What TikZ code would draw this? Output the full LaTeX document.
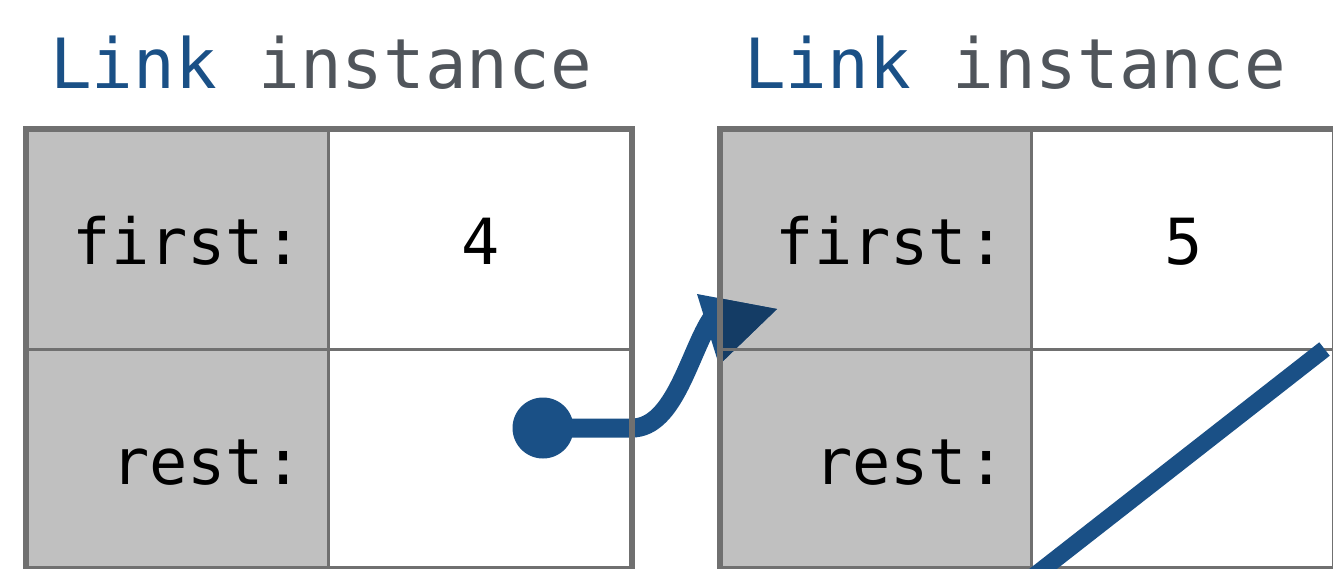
\documentclass[tikz,border=0pt]{standalone}
\usepackage{fontspec}
\setmonofont{DejaVu Sans Mono}
\usetikzlibrary{positioning}
\usetikzlibrary{calc}

\definecolor{linkblue}{HTML}{1A5086}
\definecolor{headblue}{HTML}{143C65}
\definecolor{wordgrey}{HTML}{50555B}
\definecolor{framegrey}{HTML}{707070}
\definecolor{keygrey}{HTML}{C0C0C0}

\begin{document}
\begin{tikzpicture}[x=0.1mm, y=-0.1mm,
    every node/.style={inner sep=0pt, outer sep=0pt},
    keycell/.style={fill=keygrey, minimum height=22mm, anchor=north west},
    valcell/.style={fill=white, minimum width=30.35mm, minimum height=22mm},
    outerline/.style={draw=framegrey, line width=0.6mm},
    innerline/.style={draw=framegrey, line width=0.3mm},
    title/.style={font=\ttfamily\fontsize{19.7}{24}\selectfont, anchor=base west},
    celltext/.style={font=\ttfamily\fontsize{18.1}{22}\selectfont, text=black},
    pointer/.style={draw=linkblue, line width=1.9mm}]

  \useasboundingbox (0,0) rectangle (1333,568);
  \clip (0,0) rectangle (1333,568);

  % the two Link boxes, first/rest rows
  \foreach \b/\x/\kw/\val in {1/26/30.25/4, 2/720/31.15/5} {
    \node[keycell, minimum width=\kw mm] (k\b1) at (\x,129) {};
    \node[keycell, minimum width=\kw mm, below=0pt of k\b1] (k\b2) {};
    \node[valcell, right=0pt of k\b1] (v\b1) {};
    \node[valcell, right=0pt of k\b2] (v\b2) {};

    \node[title] (t\b) at ($(k\b1.north west) + (24,-41)$) {\textcolor{linkblue}{Link} \textcolor{wordgrey}{instance}};
    \node[celltext, anchor=base east] (f\b) at ($(k\b1.east) + (-26,25)$) {first:};
    \node[celltext, anchor=base east] (r\b) at ($(k\b2.east) + (-26,25)$) {rest:};
    \node[celltext, anchor=base] (n\b) at ($(v\b1.center) + (0,25)$) {\val};
  }

  % rest of the first link points to the second
  \node[circle, fill=linkblue, minimum size=6.1mm] (ptr) at (543,428) {};
  \coordinate (hook) at (712,318);
  \coordinate (h1) at (697,294);
  \coordinate (h2) at (777,309);
  \coordinate (h3) at (719,365);
  \draw[pointer] (ptr.center) -- (ptr.center -| v12.east) .. controls (675,428) and (690,350) .. (hook);
  \fill[linkblue] (h1) -- (h2) -- (h3) -- cycle;
  \begin{scope}
    \clip (k21.north west) rectangle (k22.south east);
    \fill[headblue] (h1) -- (h2) -- (h3) -- cycle;
  \end{scope}

  \foreach \b in {1,2} {
    \draw[innerline] (k\b1.north east) -- (k\b2.south east);
    \draw[innerline] (k\b1.south west) -- (v\b1.south east);
    \draw[outerline] (k\b1.north west) rectangle (v\b2.south east);
  }

  % empty rest of the second link
  \coordinate (nil1) at (1034,576);
  \coordinate (nil2) at (1324.5,349);
  \draw[linkblue, line width=1.7mm] (nil1) -- (nil2);

\end{tikzpicture}
\end{document}
